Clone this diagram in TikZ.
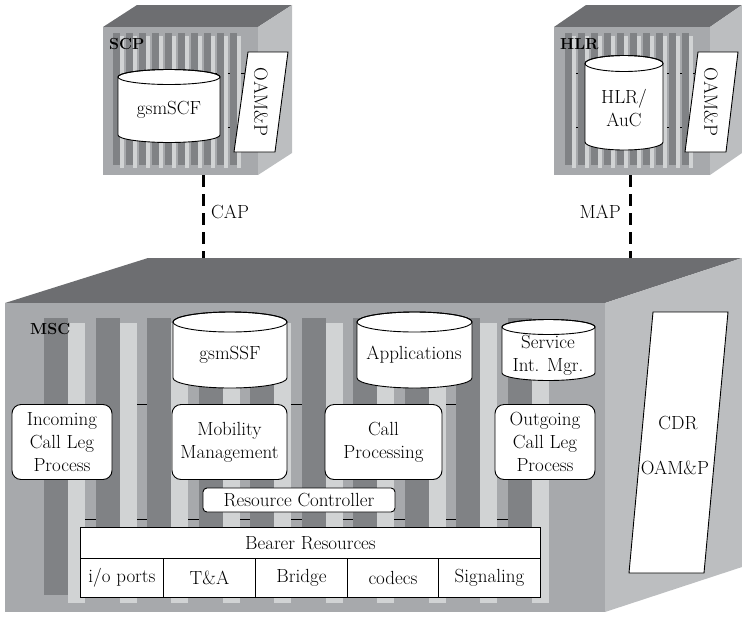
\documentclass[tikz,border=0pt]{standalone}
\usetikzlibrary{calc}

% Cylinder: left x, right x, top centre y, bottom centre y, y radius
\newcommand{\drawCylinder}[5]{%
    \pgfmathsetmacro{\cylRx}{(#2-#1)/2}%
    \pgfmathsetmacro{\cylCx}{(#1+#2)/2}%
    \filldraw[fill=white, draw=black, line width=0.9pt] (#1,#3) -- (#1,#4)
        arc [start angle=180, end angle=0, x radius=\cylRx, y radius=#5] -- (#2,#3)
        arc [start angle=0, end angle=-180, x radius=\cylRx, y radius=#5] -- cycle;%
    \draw[line width=0.9pt] (\cylCx,#3) ellipse [x radius=\cylRx, y radius=#5];%
}

\begin{document}
\begin{tikzpicture}[x=1pt, y=-1pt,
    every node/.style={font=\fontsize{19}{23}\selectfont, inner sep=0pt},
    boxLabel/.style={font=\fontsize{16}{19}\selectfont\bfseries, anchor=west},
    procBox/.style={draw, fill=white, line width=0.9pt, rounded corners=9pt, align=center, minimum height=75pt},
    cellBox/.style={draw, fill=white, line width=0.9pt, anchor=north west, minimum height=39pt},
    signalLine/.style={line width=3pt, dash pattern=on 12pt off 7pt}]
    % Define colours
    \definecolor{topColour}{HTML}{6D6E71}
    \definecolor{frontColour}{HTML}{A7A9AC}
    \definecolor{sideColour}{HTML}{BCBEC0}
    \definecolor{darkStripe}{HTML}{808285}
    \definecolor{lightStripe}{HTML}{D1D3D4}

    \useasboundingbox (0,0) rectangle (742,619);

    % Draw the SCP cabinet
    \fill[topColour] (103,27) -- (137,5) -- (292,5) -- (258,27) -- cycle;
    \fill[frontColour] (103,27) rectangle (258,175);
    \fill[sideColour] (258,27) -- (292,5) -- (292,153) -- (258,175) -- cycle;
    \draw[line width=0.8pt] (113,73) -- (245,73) (113,127) -- (245,127);
    \foreach \i in {0,...,9} {
        \pgfmathsetmacro{\sx}{113+13*\i}
        \fill[darkStripe] (\sx,33) rectangle ++(7,132);
        \fill[lightStripe] (\sx+7,36) rectangle ++(4,132);
    }
    \node[boxLabel] (scpLabel) at (109,44) {SCP};
    \drawCylinder{118}{220}{77}{135}{7.5}
    \node (gsmscf) at (169,110) {gsmSCF};
    \filldraw[fill=white, draw=black, line width=0.9pt] (248,52) -- (288,52) -- (275,152) -- (234,152) -- cycle;
    \node[rotate=-90] (scpOam) at (261,102) {OAM\&P};

    % Draw the HLR cabinet
    \fill[topColour] (554,27) -- (586,5) -- (742,5) -- (710,27) -- cycle;
    \fill[frontColour] (554,27) rectangle (710,175);
    \fill[sideColour] (710,27) -- (742,5) -- (742,153) -- (710,175) -- cycle;
    \draw[line width=0.8pt] (565,73) -- (695,73) (565,127) -- (695,127);
    \foreach \i in {0,...,9} {
        \pgfmathsetmacro{\sx}{565+13*\i}
        \fill[darkStripe] (\sx,33) rectangle ++(7,132);
        \fill[lightStripe] (\sx+7,36) rectangle ++(4,132);
    }
    \node[boxLabel] (hlrLabel) at (560,44) {HLR};
    \drawCylinder{585}{663}{63.5}{142}{8}
    \node[align=center] (hlrauc) at (624,108) {HLR/\\AuC};
    \filldraw[fill=white, draw=black, line width=0.9pt] (698,52) -- (738,52) -- (726,152) -- (685,152) -- cycle;
    \node[rotate=-90] (hlrOam) at (711,102) {OAM\&P};

    % Draw the MSC cabinet
    \fill[topColour] (5,303) -- (148,258) -- (742,258) -- (605,303) -- cycle;
    \fill[frontColour] (5,303) rectangle (605,612);
    \fill[sideColour] (605,303) -- (742,258) -- (742,567) -- (605,612) -- cycle;
    \draw[line width=0.8pt] (137,404) -- (497,404) (60,519) -- (540,519);
    \foreach \i in {0,...,9} {
        \pgfmathsetmacro{\sx}{44+51.5*\i}
        \fill[darkStripe] (\sx,318) rectangle ++(24,277);
        \fill[lightStripe] (\sx+24,323) rectangle ++(17,280);
    }
    \node[boxLabel] (mscLabel) at (30,329) {MSC};

    % Databases in the MSC
    \drawCylinder{173}{287}{322}{378}{10}
    \node (gsmssf) at (230,355) {gsmSSF};
    \drawCylinder{357}{472}{322}{378}{10}
    \node (apps) at (414,355) {Applications};
    \drawCylinder{502}{595}{327}{373}{7.5}
    \node[align=center] (simgr) at (548,355) {Service\\Int. Mgr.};

    % Call processes
    \node[procBox, minimum width=100pt] (incoming) at (62,442) {Incoming\\Call Leg\\Process};
    \node[procBox, minimum width=115pt] (mobility) at (229.5,442) {Mobility\\Management};
    \node[procBox, minimum width=117pt] (callproc) at (383.5,442) {Call\\Processing};
    \node[procBox, minimum width=100pt] (outgoing) at (545,442) {Outgoing\\Call Leg\\Process};
    \node[procBox, rounded corners=4pt, minimum width=192pt, minimum height=24pt] (rescontrol) at (299,500) {Resource Controller};

    % Bearer resources
    \node[cellBox, minimum width=460pt, minimum height=31pt] (bearer) at (80,527) {Bearer Resources};
    \node[cellBox, minimum width=83pt] (ioports) at (80,558) {i/o ports};
    \node[cellBox, minimum width=92pt] (tanda) at (163,558) {T\&A};
    \node[cellBox, minimum width=92pt] (bridge) at (255,558) {Bridge};
    \node[cellBox, minimum width=91pt] (codecs) at (347,558) {codecs};
    \node[cellBox, minimum width=102pt] (signaling) at (438,558) {Signaling};

    % CDR on the side of the MSC
    \filldraw[fill=white, draw=black, line width=0.9pt] (653,312) -- (728,312) -- (704,573) -- (629,573) -- cycle;
    \node (cdr) at (678,423) {CDR};
    \node (mscOam) at (675,468) {OAM\&P};

    % Signalling links
    \coordinate (scpBottom) at (203,175);
    \coordinate (mscCap) at (203,258);
    \coordinate (hlrBottom) at (630,175);
    \coordinate (mscMap) at (630,258);
    \draw[signalLine] (scpBottom) -- (mscCap);
    \draw[signalLine] (hlrBottom) -- (mscMap);
    \node[anchor=west] (capLabel) at (211,212) {CAP};
    \node[anchor=east] (mapLabel) at (621,212) {MAP};

\end{tikzpicture}
\end{document}
